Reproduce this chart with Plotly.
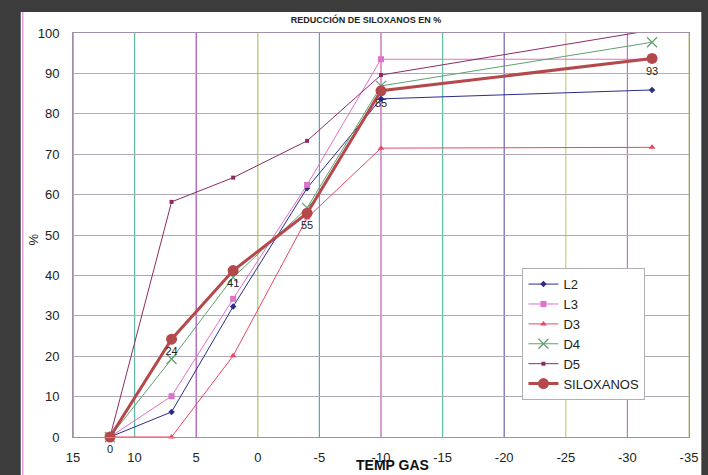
import plotly.graph_objects as go

temp_gas = [12, 7, 2, -4, -10, -32]
L2 = [0, 6.2, 32.3, 61.6, 83.7, 85.9]
L3 = [0, 10.1, 34.2, 62.4, 93.5, 93.5]
D3 = [0, 0, 20.1, 54.2, 71.5, 71.7]
D4 = [0, 19.3, 39.5, 56.7, 86.9, 97.7]
D5 = [0, 58.2, 64.2, 73.3, 89.6, 100.7]
SILOXANOS = [0, 24.2, 41.2, 55.4, 85.7, 93.7]
SILOX_LABELS = ["0", "24", "41", "55", "85", "93"]

x_ticks = [15, 10, 5, 0, -5, -10, -15, -20, -25, -30, -35]
vgrid_colors = ["#9a5aa8", "#5cb8a0", "#a050b0", "#a8c860", "#50a8c0", "#c058b0",
                "#60c0a8", "#7060b8", "#c8d070", "#d070c0", "#c8c890"]

FONT = "Liberation Sans, Arial, sans-serif"

fig = go.Figure()

series = [
    ("L2", L2, "#2c2c8c", dict(symbol="diamond", size=5, color="#2c2c8c")),
    ("L3", L3, "#e070c8", dict(symbol="square", size=6, color="#e070c8")),
    ("D3", D3, "#e84860", dict(symbol="triangle-up", size=6, color="#e84860")),
    ("D4", D4, "#60a070", dict(symbol="x-thin-open", size=10, color="#60a070",
                               line=dict(color="#60a070", width=1.2))),
    ("D5", D5, "#8c2c64", dict(symbol="square", size=4, color="#8c2c64")),
]
for name, ys, col, mk in series:
    fig.add_trace(go.Scatter(x=temp_gas, y=ys, name=name, mode="lines+markers",
                             line=dict(color=col, width=1), marker=mk, cliponaxis=False))

fig.add_trace(go.Scatter(x=temp_gas, y=SILOXANOS, name="SILOXANOS", mode="lines+markers+text",
                         text=SILOX_LABELS, textposition="bottom center",
                         textfont=dict(family=FONT, size=11, color="#222222"),
                         line=dict(color="#b5484a", width=3),
                         marker=dict(symbol="circle", size=11, color="#b5484a"),
                         cliponaxis=False))

shapes = [dict(type="rect", xref="paper", yref="paper", x0=-0.0848, x1=1.02,
               y0=-0.12, y1=1.052, fillcolor="white", line=dict(width=0), layer="below"),
          dict(type="line", xref="paper", yref="paper", x0=-0.0816, x1=-0.0816,
               y0=-0.12, y1=1.052, line=dict(color="#e0a0d8", width=1.5), layer="below")]
for xv, c in zip(x_ticks, vgrid_colors):
    shapes.append(dict(type="line", xref="x", yref="paper", x0=xv, x1=xv, y0=0, y1=1,
                       line=dict(color=c, width=1.2), layer="below"))

fig.update_layout(
    width=708, height=475, autosize=False,
    margin=dict(l=73, r=10, t=33, b=38),
    paper_bgcolor="#3c3c3c", plot_bgcolor="rgba(0,0,0,0)",
    font=dict(family=FONT, size=13, color="#222222"),
    title=dict(text="<b>REDUCCIÓN DE SILOXANOS EN %</b>", x=366 / 708, xanchor="center",
               y=1 - 20 / 475, yanchor="middle", font=dict(family=FONT, size=9, color="#222222")),
    shapes=shapes,
    showlegend=True,
    legend=dict(x=(529 - 73) / 625, y=0.418, xanchor="left", yanchor="top", bgcolor="white",
                bordercolor="#b0b0b0", borderwidth=1, font=dict(family=FONT, size=13),
                itemwidth=30, tracegroupgap=0),
    xaxis=dict(range=[15, -35], tickmode="array", tickvals=x_ticks,
               ticktext=[str(v) for v in x_ticks], showgrid=False, zeroline=False,
               showline=True, linecolor="#a090a8", mirror=True, linewidth=1,
               ticks="", ticklabelstandoff=8,
               tickfont=dict(family=FONT, size=13, color="#222222")),
    yaxis=dict(range=[0, 100], dtick=10, showgrid=True, gridcolor="#b0aab8", gridwidth=1,
               zeroline=False, showline=True, linecolor="#a090a8", mirror=True,
               ticks="", ticklabelstandoff=10,
               tickfont=dict(family=FONT, size=13, color="#222222")),
    annotations=[
        dict(text="<b>TEMP GAS</b>", xref="paper", yref="paper", x=(397 - 73) / 625,
             y=(437 - 465) / 404, xanchor="center", yanchor="middle", showarrow=False,
             font=dict(family=FONT, size=14, color="#111111")),
        dict(text="%", xref="paper", yref="paper", x=(32 - 73) / 625, y=(437 - 240) / 404,
             xanchor="center", yanchor="middle", showarrow=False, textangle=-90,
             font=dict(family=FONT, size=13, color="#222222")),
    ],
)

fig.write_html("out.html")
